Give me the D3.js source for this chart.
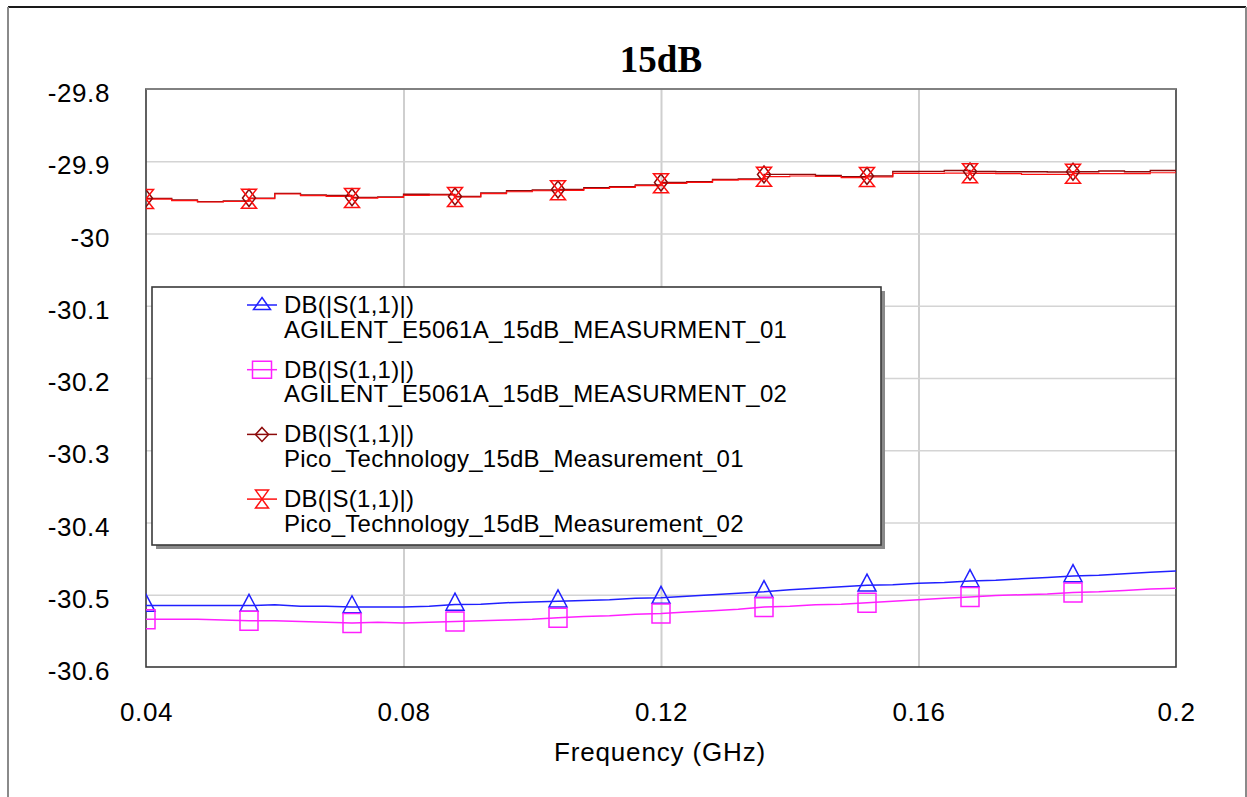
<!DOCTYPE html>
<html>
<head>
<meta charset="utf-8">
<script src="https://cdn.jsdelivr.net/npm/d3@7"></script>
<style>
  html, body { margin: 0; padding: 0; background: #fff; }
  svg { display: block; }
</style>
</head>
<body>
<svg id="chart" width="1247" height="797"></svg>
<script>
// Sweep frequencies (GHz)
const freqGHz = [
  0.040, 0.044, 0.048, 0.052, 0.056, 0.060, 0.064, 0.068, 0.072, 0.076,
  0.080, 0.084, 0.088, 0.092, 0.096, 0.100, 0.104, 0.108, 0.112, 0.116,
  0.120, 0.124, 0.128, 0.132, 0.136, 0.140, 0.144, 0.148, 0.152, 0.156,
  0.160, 0.164, 0.168, 0.172, 0.176, 0.180, 0.184, 0.188, 0.192, 0.196,
  0.200
];

// DB(|S(1,1)|) — AGILENT E5061A, measurement 01
const agilent01 = [
  -30.515, -30.515, -30.515, -30.515, -30.515, -30.514, -30.516, -30.516, -30.517, -30.517,
  -30.517, -30.516, -30.5135, -30.513, -30.511, -30.510, -30.509, -30.508, -30.507, -30.505,
  -30.504, -30.502, -30.500, -30.498, -30.496, -30.493, -30.491, -30.489, -30.487, -30.486,
  -30.484, -30.483, -30.481, -30.480, -30.478, -30.476, -30.474, -30.473, -30.471, -30.469,
  -30.467
];

// DB(|S(1,1)|) — AGILENT E5061A, measurement 02
const agilent02 = [
  -30.534, -30.534, -30.534, -30.535, -30.536, -30.536, -30.537, -30.538, -30.539, -30.538,
  -30.539, -30.538, -30.537, -30.536, -30.535, -30.534, -30.532, -30.530, -30.529, -30.527,
  -30.526, -30.524, -30.522, -30.520, -30.517, -30.516, -30.514, -30.513, -30.511, -30.509,
  -30.507, -30.505, -30.503, -30.501, -30.500, -30.499, -30.497, -30.496, -30.494, -30.492,
  -30.491
];

// DB(|S(1,1)|) — Pico Technology, measurement 01
const pico01 = [
  -29.9513, -29.9536, -29.9560, -29.9550, -29.9509, -29.9446, -29.9467, -29.9474, -29.9499, -29.9495,
  -29.9457, -29.9460, -29.9488, -29.9439, -29.9408, -29.9398, -29.9391, -29.9366, -29.9350, -29.9329,
  -29.9294, -29.9283, -29.9250, -29.9246, -29.9183, -29.9181, -29.9197, -29.9214, -29.9204, -29.9142,
  -29.9139, -29.9128, -29.9142, -29.9145, -29.9145, -29.9149, -29.9145, -29.9135, -29.9145, -29.9128,
  -29.9145
];

// DB(|S(1,1)|) — Pico Technology, measurement 02
const pico02 = [
  -29.9523, -29.9546, -29.9564, -29.9557, -29.9518, -29.9453, -29.9477, -29.9485, -29.9509, -29.9502,
  -29.9471, -29.9467, -29.9495, -29.9449, -29.9422, -29.9408, -29.9402, -29.9377, -29.9361, -29.9338,
  -29.9305, -29.9291, -29.9260, -29.9255, -29.9214, -29.9204, -29.9211, -29.9228, -29.9218, -29.9167,
  -29.9167, -29.9163, -29.9167, -29.9170, -29.9181, -29.9181, -29.9172, -29.9170, -29.9172, -29.9159,
  -29.9153
];

// Frequencies where trace markers are placed
const markerFreqs = [0.040, 0.056, 0.072, 0.088, 0.104, 0.120, 0.136, 0.152, 0.168, 0.184];

const xTicks = [0.04, 0.08, 0.12, 0.16, 0.2];
const xTickLabels = ["0.04", "0.08", "0.12", "0.16", "0.2"];
const yTicks = [-29.8, -29.9, -30, -30.1, -30.2, -30.3, -30.4, -30.5, -30.6];
const yTickLabels = ["-29.8", "-29.9", "-30", "-30.1", "-30.2", "-30.3", "-30.4", "-30.5", "-30.6"];

const traceNames = [
  "AGILENT_E5061A_15dB_MEASURMENT_01",
  "AGILENT_E5061A_15dB_MEASURMENT_02",
  "Pico_Technology_15dB_Measurement_01",
  "Pico_Technology_15dB_Measurement_02"
];
const measureLabel = "DB(|S(1,1)|)";

// Marker outlines, centred on the data point
const markerPaths = {
  triangle:  "M0,-11.3L9,5.7L-9,5.7Z",
  square:    "M-9,-9.5H9V9.5H-9Z",
  diamond:   "M0,-8.5L6.5,0L0,8.5L-6.5,0Z",
  hourglass: "M-7.5,-9.5L7.5,-9.5L-7.5,9.5L7.5,9.5Z"
};
const legendMarkerPaths = {
  triangle:  "M0,-7.5L8.5,4.5L-8.5,4.5Z",
  square:    "M-9.5,-8.5H9.5V8.5H-9.5Z",
  diamond:   "M0,-7L6.5,0L0,7L-6.5,0Z",
  hourglass: "M-6.5,-9L6.5,-9L-6.5,9L6.5,9Z"
};

const traces = [
  { values: agilent01, color: "#2020ff", marker: "triangle",  curve: d3.curveLinear,    width: 1.5 },
  { values: agilent02, color: "#ff20ff", marker: "square",    curve: d3.curveLinear,    width: 1.5 },
  { values: pico01,    color: "#8c0a0a", marker: "diamond",   curve: d3.curveStepAfter, width: 1.3 },
  { values: pico02,    color: "#ff1010", marker: "hourglass", curve: d3.curveStepAfter, width: 1.2 }
];

const svg = d3.select("#chart");
const W = 1247, H = 797;
const plot = { left: 146, top: 89, right: 1176, bottom: 667 };

// Page frame
const frame = svg.append("g");
frame.append("line").attr("x1", 8).attr("x2", 1246).attr("y1", 7).attr("y2", 7)
  .attr("stroke", "#1a1a1a").attr("stroke-width", 2);
frame.append("line").attr("x1", 8).attr("x2", 8).attr("y1", 7).attr("y2", H)
  .attr("stroke", "#8a8a8a").attr("stroke-width", 2);
frame.append("line").attr("x1", 1246).attr("x2", 1246).attr("y1", 7).attr("y2", H)
  .attr("stroke", "#8a8a8a").attr("stroke-width", 2);

const x = d3.scaleLinear().domain([0.04, 0.2]).range([plot.left, plot.right]);
const y = d3.scaleLinear().domain([-30.6, -29.8]).range([plot.bottom, plot.top]);

const tickFont = "'Liberation Sans', Arial, sans-serif";

// Grid lines
svg.append("g")
  .attr("transform", `translate(0,${plot.bottom})`)
  .call(d3.axisBottom(x).tickValues(xTicks.slice(1, -1)).tickSize(-(plot.bottom - plot.top)).tickFormat(""))
  .call(g => g.select(".domain").remove())
  .call(g => g.selectAll("line").attr("stroke", "#cfcfcf").attr("stroke-width", 2));
svg.append("g")
  .attr("transform", `translate(${plot.left},0)`)
  .call(d3.axisLeft(y).tickValues(yTicks.slice(1, -1)).tickSize(-(plot.right - plot.left)).tickFormat(""))
  .call(g => g.select(".domain").remove())
  .call(g => g.selectAll("line").attr("stroke", "#d4d4d4").attr("stroke-width", 1.6));

// Tick labels
svg.append("g")
  .attr("transform", `translate(${plot.left},0)`)
  .call(d3.axisLeft(y).tickValues(yTicks).tickSize(0).tickPadding(36)
    .tickFormat((d, i) => yTickLabels[i]))
  .call(g => g.select(".domain").remove())
  .call(g => g.selectAll("text")
    .attr("font-family", tickFont).attr("font-size", 26).attr("fill", "#000")
    .attr("letter-spacing", 0.6)
    .attr("dy", 12.5));

svg.append("g")
  .attr("transform", `translate(0,${plot.bottom})`)
  .call(d3.axisBottom(x).tickValues(xTicks).tickSize(0).tickPadding(0)
    .tickFormat((d, i) => xTickLabels[i]))
  .call(g => g.select(".domain").remove())
  .call(g => g.selectAll("text")
    .attr("font-family", tickFont).attr("font-size", 26).attr("fill", "#000")
    .attr("letter-spacing", 0.6)
    .attr("y", 0).attr("dy", 53.5));

// Plot frame
svg.append("rect")
  .attr("x", plot.left).attr("y", plot.top)
  .attr("width", plot.right - plot.left).attr("height", plot.bottom - plot.top)
  .attr("fill", "none").attr("stroke", "#3a3a3a").attr("stroke-width", 1.6);
svg.append("line")
  .attr("x1", plot.left).attr("x2", plot.right).attr("y1", plot.top).attr("y2", plot.top)
  .attr("stroke", "#8c8c8c").attr("stroke-width", 1.6);

// Traces, clipped to the plot area
svg.append("clipPath").attr("id", "plot-clip")
  .append("rect")
  .attr("x", plot.left).attr("y", plot.top)
  .attr("width", plot.right - plot.left).attr("height", plot.bottom - plot.top);

const traceLayer = svg.append("g").attr("clip-path", "url(#plot-clip)");

traces.forEach(t => {
  const line = d3.line()
    .x((d, i) => x(freqGHz[i]))
    .y(d => y(d))
    .curve(t.curve);
  traceLayer.append("path")
    .datum(t.values)
    .attr("d", line)
    .attr("fill", "none")
    .attr("stroke", t.color)
    .attr("stroke-width", t.width)
    .attr("stroke-linejoin", "miter");
});

traces.forEach(t => {
  const pts = markerFreqs.map(f => {
    const i = freqGHz.findIndex(v => Math.abs(v - f) < 1e-9);
    return [f, t.values[i]];
  });
  traceLayer.append("g").selectAll("path")
    .data(pts)
    .join("path")
    .attr("transform", d => `translate(${x(d[0])},${y(d[1])})`)
    .attr("d", markerPaths[t.marker])
    .attr("fill", "none")
    .attr("stroke", t.color)
    .attr("stroke-width", 1.5);
});

// Legend
const lg = { x: 152, y: 287, w: 729, h: 258 };
svg.append("rect")
  .attr("x", lg.x + 4).attr("y", lg.y + 4).attr("width", lg.w).attr("height", lg.h)
  .attr("fill", "#8a8a8a");
svg.append("rect")
  .attr("x", lg.x).attr("y", lg.y).attr("width", lg.w).attr("height", lg.h)
  .attr("fill", "#fff").attr("stroke", "#3a3a3a").attr("stroke-width", 1.6);

const legendFont = "'Liberation Sans', Arial, sans-serif";
traces.forEach((t, i) => {
  const base = 313 + i * 64.7;
  const my = base - 8;
  const g = svg.append("g");
  g.append("line")
    .attr("x1", 247).attr("x2", 277).attr("y1", my).attr("y2", my)
    .attr("stroke", t.color).attr("stroke-width", 1.5);
  g.append("path")
    .attr("transform", `translate(262,${my})`)
    .attr("d", legendMarkerPaths[t.marker])
    .attr("fill", "none").attr("stroke", t.color).attr("stroke-width", 1.5);
  g.append("text")
    .attr("x", 284).attr("y", base)
    .attr("font-family", legendFont).attr("font-size", 24).attr("fill", "#000")
    .attr("letter-spacing", 0.25)
    .text(measureLabel);
  g.append("text")
    .attr("x", 284).attr("y", base + 24.5)
    .attr("font-family", legendFont).attr("font-size", 24).attr("fill", "#000")
    .attr("letter-spacing", 0.25)
    .text(traceNames[i]);
});

// Title
svg.append("text")
  .attr("x", 661).attr("y", 72)
  .attr("text-anchor", "middle")
  .attr("font-family", "'Liberation Serif', 'Times New Roman', serif")
  .attr("font-weight", "bold").attr("font-size", 37).attr("fill", "#000")
  .text("15dB");

// Axis title
svg.append("text")
  .attr("x", 660).attr("y", 761)
  .attr("text-anchor", "middle")
  .attr("font-family", tickFont).attr("font-size", 26).attr("fill", "#000")
  .attr("letter-spacing", 0.85)
  .text("Frequency (GHz)");
</script>
</body>
</html>
